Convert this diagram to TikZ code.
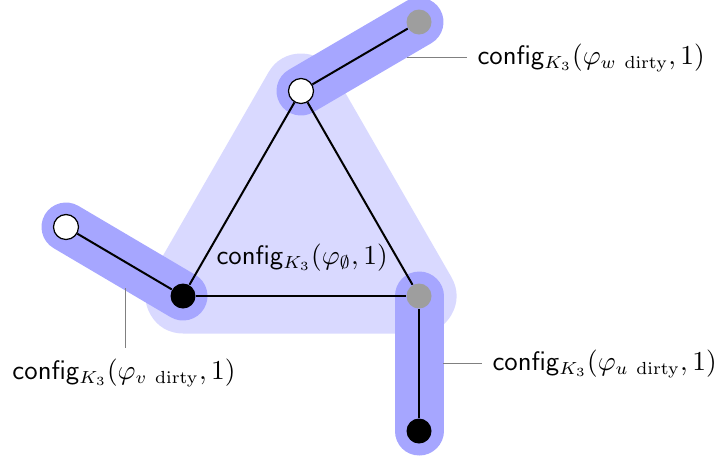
\documentclass[tikz,border=0pt]{standalone}
\begin{document}
\begin{tikzpicture}[x=0.4pt,y=-0.4pt,
  vtx/.style={circle,inner sep=0pt,minimum size=10pt},
  wv/.style={vtx,draw=black,fill=white,line width=0.5pt},
  bv/.style={vtx,fill=black},
  gv/.style={vtx,fill=black!38},
  edge/.style={line width=0.8pt},
  band/.style={line width=19.6pt,line cap=round,draw=blue!35},
  tri/.style={line width=30pt,line join=round,draw=blue!15,fill=blue!15},
  lbl/.style={inner sep=0pt,anchor=base west,font=\fontsize{10.7}{13}\selectfont},
  lline/.style={draw=black!50,line width=0.4pt}]
\useasboundingbox (0,0) rectangle (718,462);
\coordinate (T) at (301,91);
\coordinate (BL) at (183,296);
\coordinate (BR) at (419,296);
\coordinate (TR) at (419,22);
\coordinate (L) at (66,227);
\coordinate (B) at (419,431);
% light triangle
\path[tri] (T) -- (BL) -- (BR) -- cycle;
% dark bands
\draw[band] (T) -- (TR);
\draw[band] (L) -- (BL);
\draw[band] (BR) -- (B);
% nodes
\node[wv] (t) at (T) {};
\node[bv] (bl) at (BL) {};
\node[gv] (br) at (BR) {};
\node[gv] (tr) at (TR) {};
\node[wv] (l) at (L) {};
\node[bv] (b) at (B) {};
% edges
\draw[edge] (t) -- (tr);
\draw[edge] (t) -- (bl);
\draw[edge] (t) -- (br);
\draw[edge] (bl) -- (br);
\draw[edge] (bl) -- (l);
\draw[edge] (br) -- (b);
% labels
\node[lbl] (lw) at (477,64) {\textsf{config}$_{K_3}(\varphi_{w\ \mathrm{dirty}},1)$};
\node[lbl] (lu) at (492,370) {\textsf{config}$_{K_3}(\varphi_{u\ \mathrm{dirty}},1)$};
\node[lbl] (lv) at (12,379) {\textsf{config}$_{K_3}(\varphi_{v\ \mathrm{dirty}},1)$};
\node[lbl] (l0) at (216,264) {\textsf{config}$_{K_3}(\varphi_{\emptyset},1)$};
\coordinate (cw) at (407,57);
\coordinate (cu) at (443,363);
\coordinate (cv) at (125,288);
\draw[lline] (cw) -- (467,57);
\draw[lline] (cu) -- (482,363);
\draw[lline] (cv) -- (125,348);
\end{tikzpicture}
\end{document}
